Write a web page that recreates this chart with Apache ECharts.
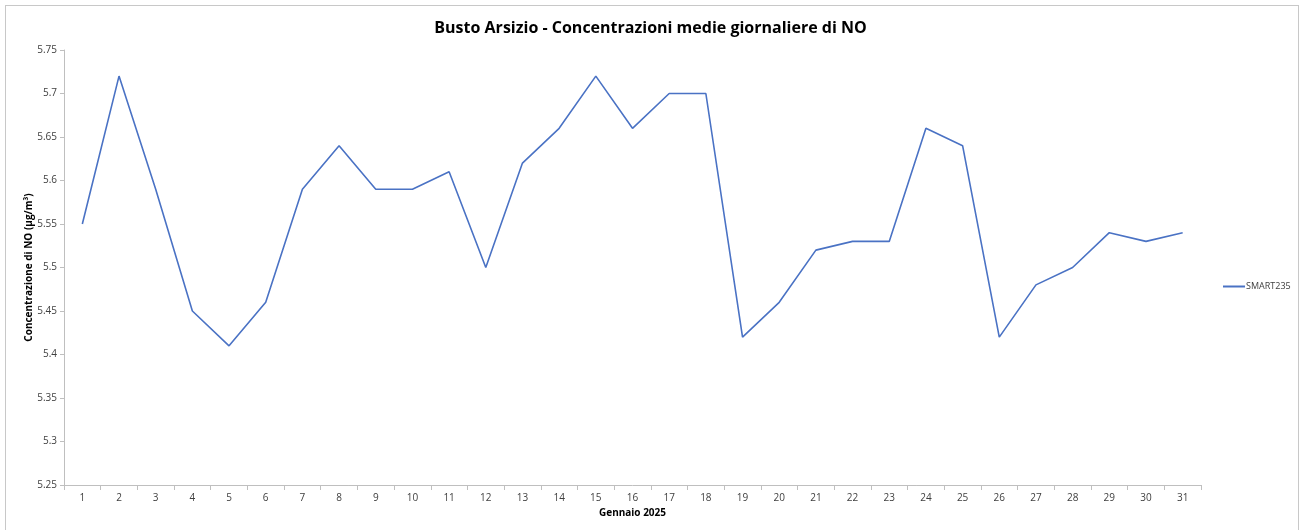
<!DOCTYPE html>
<html>
<head>
<meta charset="utf-8">
<script src="https://cdn.jsdelivr.net/npm/echarts@6/dist/echarts.min.js"></script>
<style>
html,body{margin:0;padding:0;background:#fff;}
#frame{position:absolute;left:5px;top:5px;width:1294px;height:540px;border:1px solid #c8c8c8;box-sizing:border-box;}
#chart{position:absolute;left:0;top:0;width:1301px;height:530px;}
</style>
</head>
<body>
<div id="frame"></div>
<div id="chart"></div>
<script>
const categories = ["1","2","3","4","5","6","7","8","9","10","11","12","13","14","15","16","17","18","19","20","21","22","23","24","25","26","27","28","29","30","31"];
const smart235 = [5.55,5.72,5.59,5.45,5.41,5.46,5.59,5.64,5.59,5.59,5.61,5.50,5.62,5.66,5.72,5.66,5.70,5.70,5.42,5.46,5.52,5.53,5.53,5.66,5.64,5.42,5.48,5.50,5.54,5.53,5.54];
const titleText = "Busto Arsizio - Concentrazioni medie giornaliere di NO";
const xName = "Gennaio 2025";
const yName = "Concentrazione di NO (µg/m³)";

const font = "'Open Sans', 'Noto Sans', sans-serif";
const chart = echarts.init(document.getElementById('chart'), null, {renderer:'canvas'});
chart.setOption({
  animation:false,
  backgroundColor:'transparent',
  title:{text:titleText,left:'center',top:15,textStyle:{fontFamily:font,fontSize:16,fontWeight:'bold',color:'#000'}},
  legend:{data:['SMART235'],left:1218,top:277,orient:'vertical',icon:'path://M0,0 L22,0 L22,2 L0,2 Z',itemWidth:22,itemHeight:2,itemGap:5,textStyle:{fontFamily:font,fontSize:9,color:'#404040',padding:[0,0,0,-4]}},
  grid:{left:64,right:100,top:50,bottom:45,containLabel:false},
  xAxis:{type:'category',data:categories,boundaryGap:true,
    name:xName,nameLocation:'middle',nameGap:23,nameMoveOverlap:false,
    nameTextStyle:{fontFamily:font,fontSize:10,fontWeight:'bold',color:'#000'},
    axisLine:{lineStyle:{color:'#bfbfbf',width:1}},
    axisTick:{show:true,length:5,alignWithLabel:false,lineStyle:{color:'#bfbfbf'}},
    axisLabel:{fontFamily:font,fontSize:10,color:'#404040',margin:8,interval:0},
    splitLine:{show:false}},
  yAxis:{type:'value',min:5.25,max:5.75,interval:0.05,
    name:yName,nameLocation:'middle',nameGap:30,nameRotate:90,nameMoveOverlap:false,
    nameTextStyle:{fontFamily:font,fontSize:10,fontWeight:'bold',color:'#000'},
    axisLine:{show:true,lineStyle:{color:'#bfbfbf',width:1}},
    axisTick:{show:true,length:4,lineStyle:{color:'#bfbfbf'}},
    axisLabel:{fontFamily:font,fontSize:10,color:'#404040',margin:7,formatter:v=>String(+v.toFixed(2))},
    splitLine:{show:false}},
  series:[{name:'SMART235',type:'line',data:smart235,showSymbol:false,symbol:'none',
    lineStyle:{color:'#4a72c4',width:1.6},itemStyle:{color:'#4a72c4'}}]
});
</script>
</body>
</html>
